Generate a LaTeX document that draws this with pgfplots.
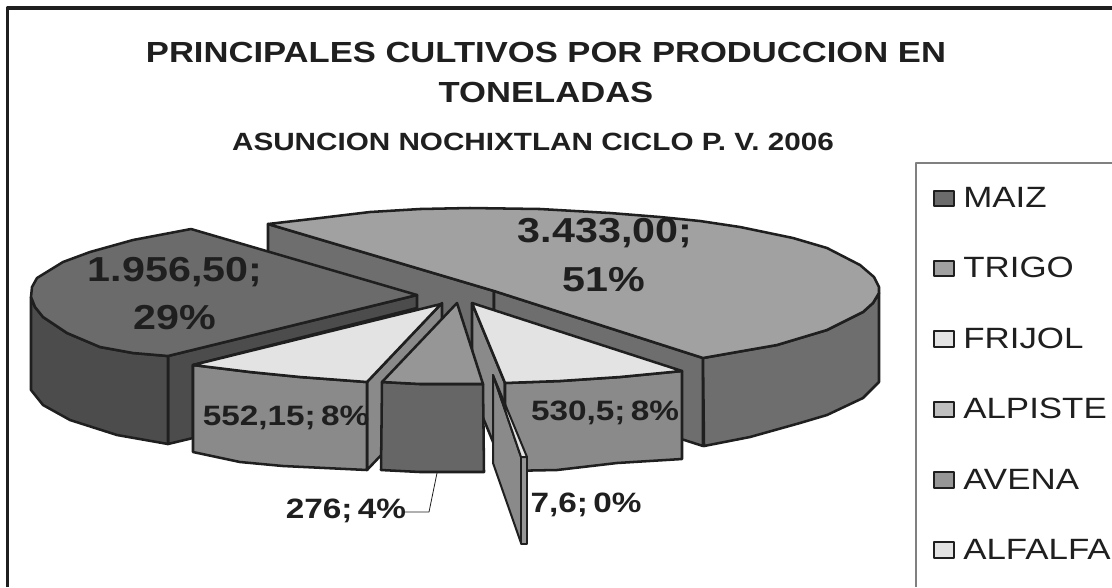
\documentclass[border=0pt]{standalone}
\usepackage{fontspec}
\setmainfont{Liberation Sans}
\usepackage{graphicx}
\usepackage{pgfplots}
\pgfplotsset{compat=1.18}

\definecolor{ink}{gray}{0.12}
\definecolor{maiztop}{gray}{0.42}
\definecolor{maizside}{gray}{0.30}
\definecolor{trigotop}{gray}{0.63}
\definecolor{trigoside}{gray}{0.43}
\definecolor{lighttop}{gray}{0.89}
\definecolor{midface}{gray}{0.54}
\definecolor{avenatop}{gray}{0.59}
\definecolor{avenaface}{gray}{0.40}
\definecolor{alpiste}{gray}{0.75}

% wide text, the reference is stretched sideways
\newcommand{\wide}[1]{\scalebox{1.19}[1]{#1}}
\newcommand{\lab}[1]{\fontsize{#1}{#1}\bfseries}
\newcommand{\gap}{\hspace{0.16em}}

\begin{document}
\begin{tikzpicture}
\begin{axis}[
    scale only axis, width=834pt, height=440.25pt,
    xmin=0, xmax=1112, ymin=0, ymax=587, y dir=reverse,
    axis lines=none,
    every axis plot/.append style={draw=ink, line width=1.9pt, line join=round},
    legend style={at={(axis cs:933,187)}, anchor=north west, draw=none, fill=none,
                  overlay, row sep=36pt, font=\fontsize{22}{22}\selectfont, text=ink,
                  inner sep=0pt, cells={anchor=west},
                  nodes={inner xsep=6pt, inner ysep=0pt}},
    legend image code/.code={
      \draw[#1, line width=1.5pt, draw=ink] (0pt,-5.8pt) rectangle (15pt,5.8pt);
    },
  ]
  \addplot[draw=none, forget plot] coordinates {(0,0) (1112,587)};

  % frame and legend box
  \addplot[line width=2.3pt, forget plot] coordinates {(7.5,587) (7.5,8) (1112,8)};
  \addplot[line width=0.8pt, draw=gray, forget plot] coordinates {(916,587) (916,163) (1112,163)};

  % TRIGO
  \addplot[fill=trigoside, forget plot] coordinates {(268,224) (494,291) (494,379) (268,312)} -- cycle;
  \addplot[fill=trigoside, forget plot] coordinates {(494,291) (703,358) (703,446) (494,379)} -- cycle;
  \addplot[fill=trigoside, forget plot] coordinates {(703,358) (737,352) (777,345) (827,330) (863,312) (873,303) (879,293)
     (879,382) (863,398) (827,415) (800,423) (750,437) (704,446)} -- cycle;
  \addplot[fill=trigotop, forget plot] coordinates {(268,224) (320,218) (370,212) (420,209) (470,208) (540,209)
     (610,213) (660,217) (700,221) (740,227) (793,238) (827,248) (860,265) (874,277) (879,287) (879,293)
     (873,303) (863,312) (827,330) (777,345) (737,352) (703,358) (494,291)} -- cycle;

  % MAIZ
  \addplot[fill=maizside, forget plot] coordinates {(168,356) (417,295) (417,308) (193,365) (193,438) (168,444)} -- cycle;
  \addplot[fill=maizside, forget plot] coordinates {(31,297) (35,307) (43,317) (67,333) (100,347) (133,353) (168,356)
     (168,444) (117,435) (70,420) (43,405) (31,390)} -- cycle;
  \addplot[fill=maiztop, forget plot] coordinates {(191,229) (133,240) (90,252) (63,262) (37,278) (32,287) (31,297)
     (35,307) (43,317) (67,333) (100,347) (133,353) (168,356) (417,295)} -- cycle;

  % right hand slice, 530,5
  \addplot[fill=midface, forget plot] coordinates {(472,303) (505,383) (505,471) (472,391)} -- cycle;
  \addplot[fill=midface, forget plot] coordinates {(505,383) (560,381) (620,377) (682,371) (682,459)
     (617,463) (557,470) (505,471)} -- cycle;
  \addplot[fill=lighttop, forget plot] coordinates {(472,303) (682,371) (620,377) (560,381) (505,383)} -- cycle;

  % left hand slice, 552,15
  \addplot[fill=midface, forget plot] coordinates {(367,382) (442,303) (442,391) (367,470)} -- cycle;
  \addplot[fill=midface, forget plot] coordinates {(193,365) (250,372) (300,377) (367,382) (367,470)
     (283,466) (240,462) (193,452)} -- cycle;
  \addplot[fill=lighttop, forget plot] coordinates {(193,365) (441,304) (367,382) (300,377) (250,372)} -- cycle;

  % AVENA
  \addplot[fill=avenaface, forget plot] coordinates {(382,382) (420,384) (483,384) (484,472) (420,472) (381,470)} -- cycle;
  \addplot[fill=avenatop, forget plot] coordinates {(457,303) (382,382) (420,384) (483,384)} -- cycle;

  % ALFALFA, the thin slice
  \addplot[fill=midface, forget plot, line width=1.5pt] coordinates {(493,375) (521,457) (521,543) (493,463)} -- cycle;
  \addplot[fill=avenatop, forget plot, line width=1.5pt] coordinates {(521,457) (527,457) (527,544) (521,544)} -- cycle;
  \addplot[fill=lighttop, forget plot, line width=1.5pt] coordinates {(493,375) (527,457) (521,457)} -- cycle;

  % leader line of the 276 label
  \addplot[line width=0.6pt, forget plot] coordinates {(405,512) (429,512) (437,473)};

  % legend
  \addlegendimage{fill=maiztop}\addlegendentry{\wide{MAIZ}}
  \addlegendimage{fill=trigotop}\addlegendentry{\wide{TRIGO}}
  \addlegendimage{fill=lighttop}\addlegendentry{\wide{FRIJOL}}
  \addlegendimage{fill=alpiste}\addlegendentry{\wide{ALPISTE}}
  \addlegendimage{fill=avenatop}\addlegendentry{\wide{AVENA}}
  \addlegendimage{fill=lighttop}\addlegendentry{\wide{ALFALFA}}

  % titles
  \node[text=ink, font=\lab{21.8}] at (axis cs:546,52) {\wide{PRINCIPALES CULTIVOS POR PRODUCCION EN}};
  \node[text=ink, font=\lab{21.8}] at (axis cs:546,92) {\wide{TONELADAS}};
  \node[text=ink, font=\lab{18.7}] at (axis cs:533,142) {\wide{ASUNCION NOCHIXTLAN CICLO P. V. 2006}};

  % slice labels
  \node[text=ink, font=\lab{26}] at (axis cs:605,233) {\wide{3.433,00;}};
  \node[text=ink, font=\lab{26}] at (axis cs:604,280) {\wide{51\%}};
  \node[text=ink, font=\lab{26}] at (axis cs:175,272) {\wide{1.956,50;}};
  \node[text=ink, font=\lab{26}] at (axis cs:175,318) {\wide{29\%}};
  \node[text=ink, font=\lab{21}] at (axis cs:286,418) {\wide{552,15;\gap 8\%}};
  \node[text=ink, font=\lab{21}] at (axis cs:605,413) {\wide{530,5;\gap 8\%}};
  \node[text=ink, font=\lab{21}] at (axis cs:346,511) {\wide{276;\gap 4\%}};
  \node[text=ink, font=\lab{21}] at (axis cs:586,505) {\wide{7,6;\gap 0\%}};
\end{axis}
\end{tikzpicture}
\end{document}
